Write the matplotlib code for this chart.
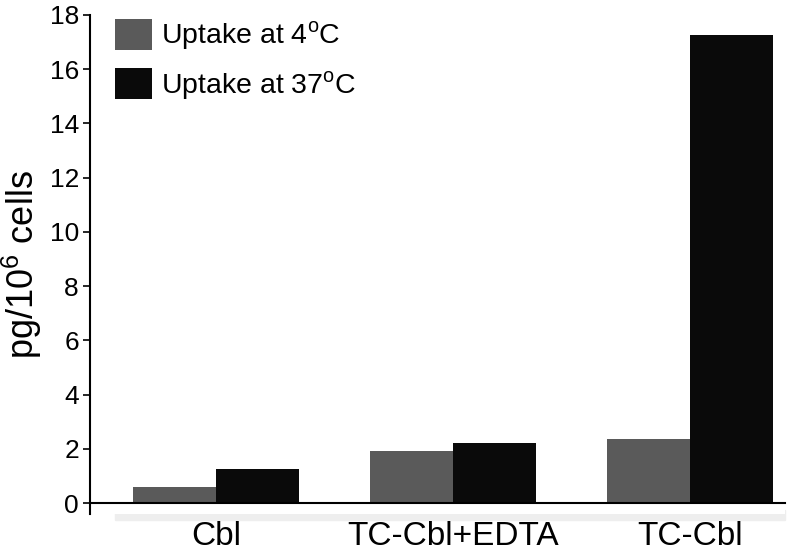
import numpy as np
import matplotlib
matplotlib.use('Agg')
import matplotlib.pyplot as plt
from matplotlib.patches import Rectangle

categories = ['Cbl', 'TC-Cbl+EDTA', 'TC-Cbl']
uptake_4c = [0.59, 1.92, 2.38]
uptake_37c = [1.25, 2.20, 17.25]
labels = [r'Uptake at 4$^{\mathrm{o}}$C', r'Uptake at 37$^{\mathrm{o}}$C']
y_ticks = [0, 2, 4, 6, 8, 10, 12, 14, 16, 18]

plt.rcParams['font.family'] = ['Liberation Sans', 'DejaVu Sans']
plt.rcParams['mathtext.fontset'] = 'custom'
plt.rcParams['mathtext.rm'] = 'Liberation Sans'

fig = plt.figure(figsize=(8, 5.57), dpi=100)
ax = fig.add_axes([0.1125, 0.0772, 0.869, 0.8959])

x = np.arange(len(categories))
width = 0.35
ax.bar(x - width / 2, uptake_4c, width, color='#5a5a5a', label=labels[0])
ax.bar(x + width / 2, uptake_37c, width, color='#0a0a0a', label=labels[1])

ax.set_xlim(-0.53, 2.4)
ax.set_ylim(-0.4, 18)
ax.spines['bottom'].set_position(('data', 0))
ax.set_yticks(y_ticks)
ax.tick_params(axis='y', labelsize=19, direction='out', length=5, width=1.2, pad=3)
ax.set_xticks(x)
ax.set_xticklabels(categories, fontsize=24)
ax.tick_params(axis='x', length=0, pad=13)
for s in ['top', 'right']:
	ax.spines[s].set_visible(False)
ax.spines['left'].set_linewidth(1.5)
ax.spines['bottom'].set_linewidth(1.5)

ax.set_ylabel(r'pg/10$^6$ cells', fontsize=26, labelpad=4)

ax.legend(loc='upper left', bbox_to_anchor=(0.02, 1.015), frameon=False, fontsize=20.5,
	handlelength=1.3, handleheight=1.3, handletextpad=0.3, labelspacing=0.55, borderaxespad=0)

# light band under the axis line
band = Rectangle((115 / 800, 1 - 520 / 557), 670 / 800, 10 / 557,
	transform=fig.transFigure, color='#eeeeee', zorder=-1)
fig.patches.append(band)

fig.savefig('out.png', dpi=100)
